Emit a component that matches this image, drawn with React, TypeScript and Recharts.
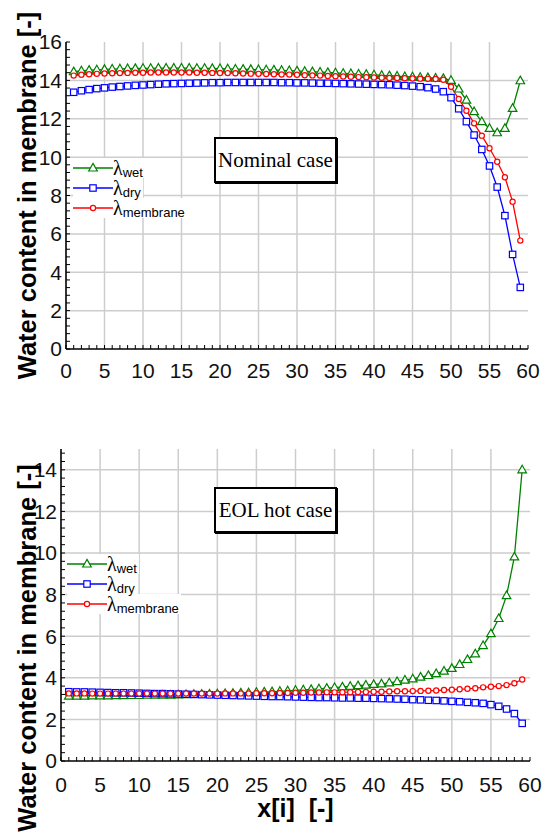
import { CartesianGrid, Legend, Line, LineChart, XAxis, YAxis } from "recharts"

// cell index along the channel
const xIndex = [
  1, 2, 3, 4, 5, 6, 7, 8, 9, 10, 11, 12, 13, 14, 15, 16, 17, 18, 19, 20,
  21, 22, 23, 24, 25, 26, 27, 28, 29, 30, 31, 32, 33, 34, 35, 36, 37, 38, 39, 40,
  41, 42, 43, 44, 45, 46, 47, 48, 49, 50, 51, 52, 53, 54, 55, 56, 57, 58, 59,
]

// Nominal case
const nominalWet = [
  14.45, 14.5, 14.53, 14.55, 14.57, 14.59, 14.6, 14.61, 14.62, 14.63,
  14.63, 14.64, 14.64, 14.64, 14.64, 14.64, 14.63, 14.63, 14.62, 14.61,
  14.6, 14.59, 14.58, 14.57, 14.56, 14.55, 14.54, 14.52, 14.51, 14.49,
  14.47, 14.45, 14.43, 14.41, 14.39, 14.37, 14.35, 14.33, 14.31, 14.29,
  14.26, 14.24, 14.22, 14.2, 14.18, 14.16, 14.14, 14.12, 14.1, 14.0,
  13.55, 12.97, 12.37, 11.85, 11.5, 11.27, 11.5, 12.54, 13.98,
]
const nominalDry = [
  13.38, 13.46, 13.52, 13.57, 13.61, 13.65, 13.68, 13.71, 13.74, 13.76,
  13.78, 13.8, 13.82, 13.83, 13.84, 13.85, 13.86, 13.87, 13.88, 13.88,
  13.89, 13.89, 13.89, 13.89, 13.89, 13.89, 13.89, 13.88, 13.88, 13.87,
  13.87, 13.86, 13.85, 13.85, 13.84, 13.83, 13.82, 13.81, 13.8, 13.79,
  13.78, 13.77, 13.75, 13.73, 13.7, 13.67, 13.62, 13.55, 13.41, 13.1,
  12.52, 11.85, 11.15, 10.4, 9.54, 8.44, 6.95, 4.93, 3.21,
]
const nominalMembrane = [
  14.25, 14.29, 14.32, 14.34, 14.36, 14.37, 14.38, 14.39, 14.4, 14.4,
  14.41, 14.41, 14.41, 14.41, 14.41, 14.41, 14.4, 14.4, 14.39, 14.39,
  14.38, 14.37, 14.36, 14.35, 14.34, 14.33, 14.32, 14.31, 14.3, 14.29,
  14.27, 14.26, 14.25, 14.23, 14.22, 14.2, 14.19, 14.17, 14.16, 14.15,
  14.14, 14.13, 14.12, 14.11, 14.1, 14.09, 14.08, 14.07, 14.03, 13.67,
  13.03, 12.42, 11.76, 11.12, 10.46, 9.76, 8.95, 7.68, 5.65,
]

// EOL hot case
const eolWet = [
  3.12, 3.12, 3.12, 3.13, 3.13, 3.13, 3.14, 3.14, 3.15, 3.15,
  3.16, 3.16, 3.17, 3.17, 3.18, 3.19, 3.2, 3.21, 3.22, 3.23,
  3.24, 3.25, 3.27, 3.28, 3.3, 3.32, 3.33, 3.35, 3.37, 3.4,
  3.42, 3.44, 3.47, 3.5, 3.53, 3.56, 3.59, 3.62, 3.65, 3.68,
  3.71, 3.76, 3.82, 3.89, 3.95, 4.03, 4.11, 4.2, 4.32, 4.45,
  4.64, 4.88, 5.15, 5.55, 6.12, 6.85, 7.95, 9.81, 14.0,
]
const eolDry = [
  3.33, 3.32, 3.32, 3.31, 3.3, 3.29, 3.28, 3.28, 3.27, 3.26,
  3.25, 3.24, 3.24, 3.23, 3.22, 3.21, 3.2, 3.19, 3.18, 3.17,
  3.16, 3.15, 3.14, 3.13, 3.12, 3.11, 3.1, 3.1, 3.09, 3.08,
  3.07, 3.06, 3.05, 3.05, 3.04, 3.03, 3.03, 3.02, 3.02, 3.01,
  3.0, 2.99, 2.98, 2.97, 2.95, 2.94, 2.92, 2.91, 2.89, 2.87,
  2.85, 2.82, 2.8, 2.77, 2.71, 2.63, 2.5, 2.28, 1.81,
]
const eolMembrane = [
  3.25, 3.25, 3.25, 3.24, 3.24, 3.24, 3.24, 3.24, 3.24, 3.24,
  3.24, 3.24, 3.24, 3.24, 3.24, 3.24, 3.24, 3.24, 3.24, 3.24,
  3.25, 3.25, 3.25, 3.25, 3.26, 3.26, 3.26, 3.27, 3.27, 3.28,
  3.28, 3.29, 3.29, 3.3, 3.3, 3.31, 3.31, 3.32, 3.32, 3.33,
  3.33, 3.34, 3.35, 3.35, 3.36, 3.37, 3.38, 3.39, 3.41, 3.43,
  3.45, 3.47, 3.5, 3.54, 3.57, 3.6, 3.65, 3.74, 3.92,
]

const xGridValues = [5, 10, 15, 20, 25, 30, 35, 40, 45, 50, 55]
const xMinorTicks = Array.from({ length: 61 }, (_, i) => i)
const nominalYGrid = [2, 4, 6, 8, 10, 12, 14]
const eolYGrid = [2, 4, 6, 8, 10, 12, 14]
const nominalYMinor = Array.from({ length: 41 }, (_, i) => Math.round(i * 4) / 10)
const eolYMinor = Array.from({ length: 38 }, (_, i) => Math.round(i * 4) / 10)

const SANS = "'Liberation Sans', Arial, sans-serif"
const SERIF = "'Liberation Serif', 'Times New Roman', serif"

const series = [
  { key: "wet", sub: "wet", color: "#008000", shape: "triangle" },
  { key: "dry", sub: "dry", color: "#0000ff", shape: "square" },
  { key: "membrane", sub: "membrane", color: "#ff0000", shape: "circle" },
]

function marker(shape: string, cx: number, cy: number, color: string) {
  if (shape === "triangle") {
    return (
      <polygon
        points={`${cx},${cy - 4.6} ${cx + 4.3},${cy + 3} ${cx - 4.3},${cy + 3}`}
        fill="#fff"
        stroke={color}
        strokeWidth={1.2}
      />
    )
  }
  if (shape === "square") {
    return <rect x={cx - 3.2} y={cy - 3.2} width={6.4} height={6.4} fill="#fff" stroke={color} strokeWidth={1.2} />
  }
  return <circle cx={cx} cy={cy} r={2.6} fill="#fff" stroke={color} strokeWidth={1.2} />
}

const emptyTick = () => <g />

function isMajor(v: number, step: number) {
  const r = v / step
  return Math.abs(r - Math.round(r)) < 1e-6
}

function makeXTick(gap: number) {
  return (props: any) => {
    const { x, y, payload } = props
    const v = payload.value
    return (
      <g>
        <line x1={x} x2={x} y1={y - gap} y2={y - gap - 4} stroke="#000" strokeWidth={1} />
        {isMajor(v, 5) && (
          <text x={x} y={y} dy="0.71em" textAnchor="middle" fontSize={21} fontFamily={SANS} fill="#111">
            {v}
          </text>
        )}
      </g>
    )
  }
}

function makeYTick(gap: number) {
  return (props: any) => {
    const { x, y, payload } = props
    const v = payload.value
    return (
      <g>
        <line x1={x + gap} x2={x + gap + 4} y1={y} y2={y} stroke="#000" strokeWidth={1} />
        {isMajor(v, 2) && (
          <text x={x} y={y} dy="0.355em" textAnchor="end" fontSize={21} fontFamily={SANS} fill="#111">
            {v}
          </text>
        )}
      </g>
    )
  }
}

function LegendBox() {
  return (
    <div style={{ display: "flex", flexDirection: "column" }}>
      {series.map((s) => (
        <div key={s.key} style={{ height: 20, display: "flex", alignItems: "center" }}>
          <div style={{ display: "flex", alignItems: "center", background: "#fff" }}>
            <svg width={40} height={20}>
              <line x1={0} x2={40} y1={10} y2={10} stroke={s.color} strokeWidth={1.3} />
              {marker(s.shape, 20, 10, s.color)}
            </svg>
            <span style={{ fontFamily: SERIF, fontSize: 20, lineHeight: "20px", color: "#000" }}>λ</span>
            <span
              style={{
                fontFamily: SANS,
                fontSize: 13,
                lineHeight: "13px",
                color: "#000",
                position: "relative",
                top: 4,
                paddingRight: 2,
              }}
            >
              {s.sub}
            </span>
          </div>
        </div>
      ))}
    </div>
  )
}

interface PanelProps {
  wet: number[]
  dry: number[]
  membrane: number[]
  yMax: number
  yGrid: number[]
  yMinor: number[]
  top: number
  height: number
  margin: { top: number; right: number; bottom: number; left: number }
  yAxisWidth: number
  xAxisHeight: number
  tickGap: number
  labelDy: number
  legendTop: number
  legendLeft: number
  showXLabel: boolean
}

function WaterPanel(p: PanelProps) {
  const data = xIndex.map((x, i) => ({ x, wet: p.wet[i], dry: p.dry[i], membrane: p.membrane[i] }))
  return (
    <div style={{ position: "absolute", left: 0, top: p.top }}>
      <LineChart width={547} height={p.height} data={data} margin={p.margin}>
        <CartesianGrid
          xAxisId="main"
          yAxisId="main"
          verticalValues={xGridValues}
          horizontalValues={p.yGrid}
          stroke="#cdcdcd"
          strokeWidth={1.5}
        />
        <XAxis
          xAxisId="main"
          dataKey="x"
          type="number"
          domain={[0, 60]}
          allowDataOverflow
          ticks={xMinorTicks}
          interval={0}
          tick={makeXTick(p.tickGap)}
          tickLine={false}
          tickSize={0}
          tickMargin={p.tickGap}
          height={p.xAxisHeight}
          axisLine={{ stroke: "#000", strokeWidth: 1.6 }}
          label={
            p.showXLabel
              ? {
                  value: "x[i]\u00a0\u00a0[-]",
                  position: "insideBottom",
                  offset: 18,
                  style: { fontSize: 25, fontWeight: "bold", fontFamily: SANS, fill: "#000" },
                }
              : undefined
          }
        />
        <XAxis
          xAxisId="top"
          orientation="top"
          type="number"
          domain={[0, 60]}
          allowDataOverflow
          ticks={xMinorTicks}
          interval={0}
          tick={emptyTick}
          mirror
          tickSize={4}
          height={0}
          tickLine={{ stroke: "#000" }}
          axisLine={{ stroke: "#000", strokeWidth: 1.6 }}
        />
        <YAxis
          yAxisId="main"
          type="number"
          domain={[0, p.yMax]}
          allowDataOverflow
          ticks={p.yMinor}
          interval={0}
          tick={makeYTick(4)}
          tickLine={false}
          tickSize={0}
          tickMargin={4}
          width={p.yAxisWidth}
          axisLine={{ stroke: "#000", strokeWidth: 1.6 }}
          label={{
            value: "Water content in membrane [-]",
            angle: -90,
            position: "center",
            dx: 27 - p.yAxisWidth / 2,
            dy: p.labelDy,
            style: { fontSize: 25.5, fontWeight: "bold", fontFamily: SANS, fill: "#000" },
          }}
        />
        <YAxis
          yAxisId="right"
          orientation="right"
          type="number"
          domain={[0, p.yMax]}
          allowDataOverflow
          ticks={p.yMinor}
          interval={0}
          tick={emptyTick}
          mirror
          tickSize={4}
          width={0}
          tickLine={{ stroke: "#000" }}
          axisLine={{ stroke: "#000", strokeWidth: 1.6 }}
        />
        {series.map((s) => (
          <Line
            key={s.key}
            xAxisId="main"
            yAxisId="main"
            type="linear"
            dataKey={s.key}
            stroke={s.color}
            strokeWidth={1.3}
            dot={(d: any) => (
              <g key={`${s.key}-${d.index}`}>{marker(s.shape, d.cx, d.cy, s.color)}</g>
            )}
            activeDot={false}
            isAnimationActive={false}
          />
        ))}
        <Legend
          layout="vertical"
          align="center"
          verticalAlign="middle"
          content={() => <LegendBox />}
          wrapperStyle={{ left: p.legendLeft, top: p.legendTop, width: 130, height: 60 }}
        />
      </LineChart>
    </div>
  )
}

function CaseBox({ text, left, top }: { text: string; left: number; top: number }) {
  return (
    <div
      style={{
        position: "absolute",
        left,
        top,
        width: 123,
        height: 46,
        boxSizing: "border-box",
        border: "2px solid #000",
        boxShadow: "1px 1px 0 #000",
        background: "#fff",
        display: "flex",
        alignItems: "center",
        justifyContent: "center",
        fontFamily: SERIF,
        fontSize: 21,
        color: "#000",
      }}
    >
      {text}
    </div>
  )
}

export default function App() {
  return (
    <div style={{ position: "absolute", left: 0, top: 0, width: 547, height: 835, background: "#fff" }}>
      <WaterPanel
        wet={nominalWet}
        dry={nominalDry}
        membrane={nominalMembrane}
        yMax={16}
        yGrid={nominalYGrid}
        yMinor={nominalYMinor}
        top={0}
        height={400}
        margin={{ top: 42, right: 19, bottom: 0, left: 0 }}
        yAxisWidth={66}
        xAxisHeight={51}
        tickGap={14}
        labelDy={0}
        legendTop={158}
        legendLeft={73}
        showXLabel={false}
      />
      <WaterPanel
        wet={eolWet}
        dry={eolDry}
        membrane={eolMembrane}
        yMax={15}
        yGrid={eolYGrid}
        yMinor={eolYMinor}
        top={420}
        height={415}
        margin={{ top: 29, right: 17, bottom: 0, left: 0 }}
        yAxisWidth={61}
        xAxisHeight={74}
        tickGap={16}
        labelDy={43}
        legendTop={134}
        legendLeft={67}
        showXLabel
      />
      <CaseBox text="Nominal case" left={214} top={137} />
      <CaseBox text="EOL hot case" left={214} top={487} />
    </div>
  )
}
